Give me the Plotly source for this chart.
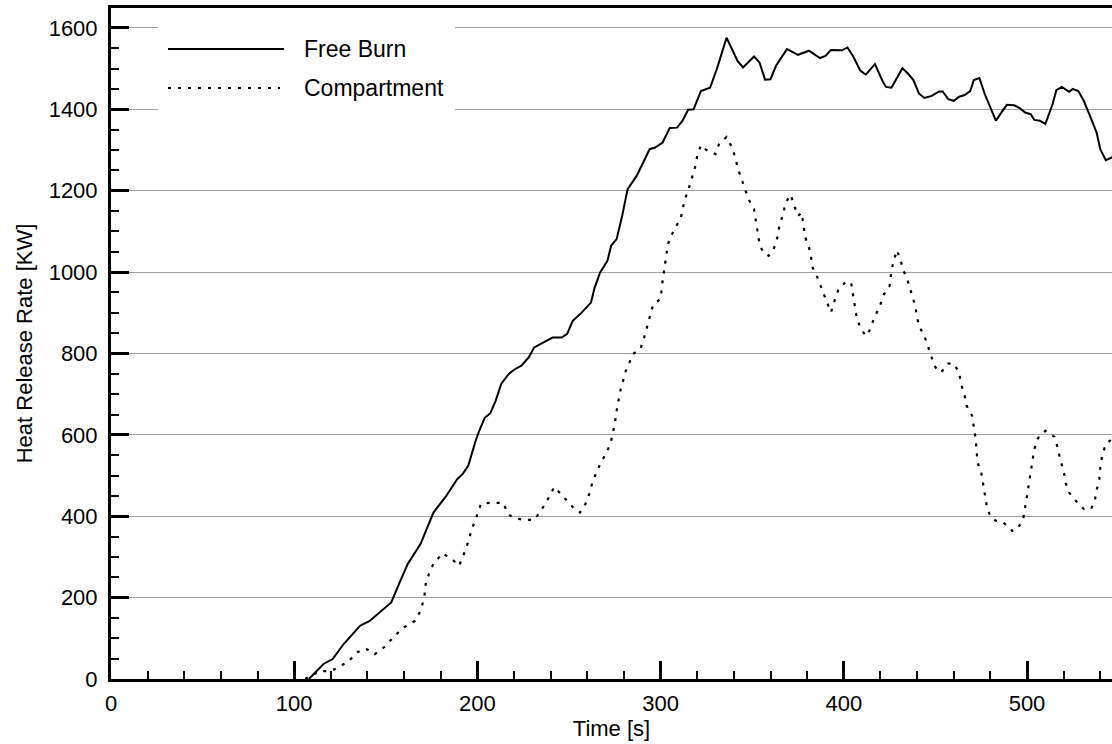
import plotly.graph_objects as go

# ---- data ----
free_t = [108, 112, 116, 121, 127, 132, 136, 141, 147, 153, 158, 162, 169, 172, 176, 183, 189, 192, 195, 199,
          201, 204, 207, 210, 213, 217, 220, 224, 228, 231, 236, 241, 246, 249, 252, 257, 262, 264, 267, 271,
          273, 276, 279, 282, 287, 291, 294, 297, 301, 305, 309, 312, 315, 318, 322, 327, 331, 336, 342, 345,
          351, 354, 357, 360, 363, 369, 375, 381, 387, 390, 393, 399, 402, 405, 409, 412, 417, 421, 423, 426,
          429, 432, 435, 438, 441, 444, 448, 452, 454, 457, 460, 463, 466, 469, 471, 474, 477, 481, 483, 486,
          489, 493, 496, 499, 502, 504, 507, 510, 514, 516, 519, 523, 525, 528, 531, 534, 538, 540, 543, 547]
free_hrr = [0, 18, 37, 49, 86, 111, 131, 142, 164, 188, 242, 283, 332, 364, 409, 450, 491, 504, 524, 585,
            610, 642, 653, 684, 725, 749, 760, 770, 790, 815, 826, 839, 839, 848, 880, 901, 925, 962, 999, 1028,
            1065, 1081, 1138, 1204, 1237, 1273, 1302, 1306, 1318, 1354, 1355, 1372, 1399, 1400, 1445, 1453, 1503, 1576, 1519, 1503,
            1530, 1515, 1473, 1474, 1507, 1548, 1534, 1544, 1526, 1531, 1546, 1545, 1552, 1531, 1495, 1485, 1511, 1471, 1455, 1453,
            1478, 1501, 1488, 1472, 1439, 1428, 1433, 1444, 1444, 1425, 1421, 1431, 1435, 1445, 1472, 1477, 1437, 1395, 1372, 1392,
            1411, 1410, 1403, 1392, 1388, 1374, 1372, 1364, 1413, 1447, 1455, 1443, 1450, 1445, 1421, 1388, 1343, 1302, 1275, 1283]

comp_t = [106, 109, 114, 120, 124, 130, 134, 139, 144, 149, 156, 160, 166, 169, 171, 172, 176, 181, 187, 190,
          194, 197, 200, 202, 207, 214, 217, 221, 225, 231, 234, 238, 242, 248, 253, 256, 260, 263, 267, 271,
          273, 275, 276, 278, 281, 285, 289, 291, 294, 296, 300, 301, 304, 307, 311, 313, 315, 317, 319, 320,
          322, 325, 330, 332, 336, 339, 341, 342, 344, 346, 348, 351, 352, 353, 354, 356, 359, 362, 364, 365,
          367, 368, 371, 373, 375, 377, 378, 379, 381, 382, 383, 386, 388, 390, 393, 395, 397, 401, 404, 406,
          407, 409, 412, 414, 416, 420, 422, 425, 426, 427, 429, 431, 433, 435, 437, 439, 440, 441, 444, 446,
          448, 450, 453, 457, 460, 463, 464, 466, 467, 470, 471, 472, 472.5, 473, 475, 476, 477, 478, 480, 483,
          487, 492, 495, 498, 500, 501, 502, 503, 504, 506, 510, 515, 517, 518, 520, 521, 523, 527, 531, 535,
          537, 538, 539.5, 540, 541, 543, 547]
comp_hrr = [0, 8, 19, 20, 28, 45, 65, 75, 61, 78, 111, 127, 143, 168, 200, 242, 283, 309, 291, 278,
            323, 369, 405, 431, 433, 433, 404, 395, 391, 391, 409, 438, 472, 442, 418, 409, 438, 487, 528, 561,
            585, 627, 659, 708, 757, 799, 811, 839, 890, 921, 934, 975, 1069, 1101, 1132, 1175, 1200, 1234, 1261, 1286,
            1312, 1300, 1290, 1316, 1332, 1306, 1278, 1257, 1232, 1204, 1179, 1155, 1126, 1097, 1069, 1048, 1040, 1060, 1089, 1118,
            1142, 1169, 1190, 1163, 1138, 1146, 1118, 1085, 1060, 1040, 1011, 983, 958, 934, 901, 930, 956, 976, 974, 917,
            888, 864, 843, 856, 880, 921, 946, 966, 1003, 1024, 1054, 1028, 999, 977, 946, 917, 890, 868, 843, 815,
            790, 766, 753, 775, 775, 753, 725, 696, 672, 647, 618, 590, 561, 532, 508, 479, 452, 426, 399, 389,
            385, 364, 369, 396, 450, 479, 508, 535, 565, 592, 610, 595, 565, 541, 512, 483, 458, 436, 418, 418,
            438, 464, 491, 520, 549, 577, 592]

series_names = ["Free Burn", "Compartment"]
x_title = "Time [s]"
y_title = "Heat Release Rate [KW]"

FONT = "Liberation Sans, Arial, Helvetica, sans-serif"
DOT = "3px,7px"

fig = go.Figure()
fig.add_trace(go.Scatter(x=free_t, y=free_hrr, mode="lines", name=series_names[0],
                         line=dict(color="black", width=2), showlegend=False))
fig.add_trace(go.Scatter(x=comp_t, y=comp_hrr, mode="lines", name=series_names[1],
                         line=dict(color="black", width=2.2, dash=DOT), showlegend=False))

W, H = 1112, 744
L, R, T, B = 111, 0, 8, 65
pw, ph = W - L - R, H - T - B

def px(x):
    return (x - L) / pw

def py(y):
    return (H - B - y) / ph

# legend (white box covering grid lines, samples and labels)
shapes = [
    dict(type="rect", xref="paper", yref="paper", x0=px(158), x1=px(455), y0=py(117), y1=py(12),
         fillcolor="white", line=dict(width=0), layer="above"),
    dict(type="line", xref="paper", yref="paper", x0=px(168), x1=px(284), y0=py(49), y1=py(49),
         line=dict(color="black", width=2), layer="above"),
    dict(type="line", xref="paper", yref="paper", x0=px(168), x1=px(280), y0=py(88), y1=py(88),
         line=dict(color="black", width=2.2, dash=DOT), layer="above"),
]
annotations = [
    dict(xref="paper", yref="paper", x=px(302), y=py(49), text=series_names[0], showarrow=False,
         xanchor="left", yanchor="middle", font=dict(size=23, color="black", family=FONT)),
    dict(xref="paper", yref="paper", x=px(302), y=py(88), text=series_names[1], showarrow=False,
         xanchor="left", yanchor="middle", font=dict(size=23, color="black", family=FONT)),
]

fig.update_layout(
    width=W, height=H,
    margin=dict(l=L, r=R, t=T, b=B, pad=0),
    paper_bgcolor="white", plot_bgcolor="white",
    font=dict(family=FONT, color="black"),
    shapes=shapes, annotations=annotations,
    showlegend=False,
    xaxis=dict(
        range=[0, 546.4], tick0=0, dtick=100, ticks="inside", ticklen=18, tickwidth=3, tickcolor="black",
        showline=True, linewidth=3, linecolor="black", mirror=True,
        showgrid=False, zeroline=False, automargin=False,
        tickfont=dict(size=22, family=FONT, color="black"),
        ticklabelstandoff=3,
        title=dict(text=x_title, font=dict(size=22, family=FONT, color="black"), standoff=2),
        minor=dict(dtick=20, tick0=0, ticks="inside", ticklen=8, tickwidth=1.5, tickcolor="black", showgrid=False),
    ),
    yaxis=dict(
        range=[0, 1649], tick0=0, dtick=200, ticks="inside", ticklen=18, tickwidth=3, tickcolor="black",
        showline=True, linewidth=3, linecolor="black",
        showgrid=True, gridcolor="#a0a0a0", gridwidth=1, zeroline=False, automargin=False,
        tickfont=dict(size=22, family=FONT, color="black"),
        ticklabelstandoff=6,
        title=dict(text=y_title, font=dict(size=22, family=FONT, color="black"), standoff=10),
        minor=dict(dtick=50, tick0=0, ticks="inside", ticklen=8, tickwidth=1.5, tickcolor="black", showgrid=False),
    ),
)

fig.write_html("out.html")
